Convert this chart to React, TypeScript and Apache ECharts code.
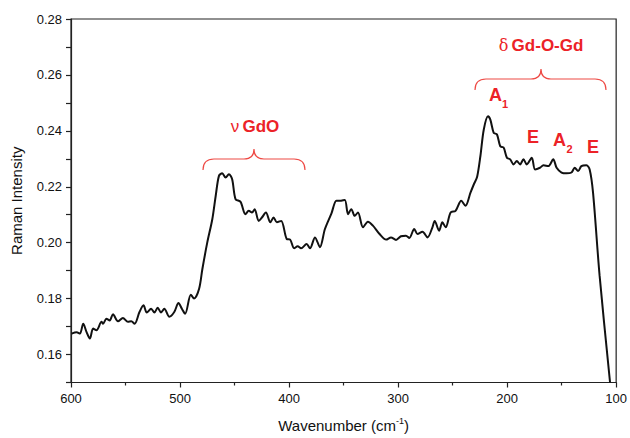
import React, { useEffect, useRef } from "react";
import * as echarts from "echarts";

const wavenumber = [
  599.4, 594.8, 591.8, 588.8, 585.7, 582.7, 579.7, 576.6, 572.0, 570.6,
  567.5, 564.5, 561.5, 556.9, 552.4, 547.8, 544.7, 541.7, 537.2, 533.5,
  530.5, 526.5, 523.5, 520.5, 517.4, 514.4, 509.8, 505.3, 501.4, 498.3,
  495.3, 490.1, 487.1, 482.5, 479.5, 475.0, 470.4, 467.3, 464.3, 461.3,
  458.2, 455.2, 452.2, 449.1, 444.5, 440.0, 437.0, 434.0, 431.5, 427.9,
  424.9, 421.2, 417.2, 414.2, 411.2, 407.2, 402.1, 399.0, 395.4, 392.1,
  389.0, 383.9, 380.8, 376.2, 371.7, 367.1, 361.1, 356.6, 353.5, 348.9,
  345.9, 342.9, 339.8, 336.8, 332.2, 327.7, 323.1, 317.0, 311.0, 306.5,
  301.9, 297.4, 292.8, 289.7, 285.2, 282.2, 277.6, 273.0, 268.5, 266.4,
  262.4, 259.4, 256.4, 251.8, 247.3, 242.1, 238.2, 233.6, 230.5, 227.5,
  224.5, 221.4, 217.5, 215.4, 212.3, 209.3, 206.3, 203.2, 200.2, 197.2,
  194.1, 191.1, 188.1, 185.0, 182.0, 177.4, 174.4, 169.9, 166.7, 162.2,
  157.7, 154.6, 150.1, 145.6, 141.0, 138.0, 134.9, 131.9, 127.3, 124.3,
  121.2, 115.2, 105.6,
];

const intensity = [
  0.1675, 0.168, 0.1675, 0.171, 0.168, 0.1657, 0.1693, 0.1687, 0.1717, 0.171,
  0.1728, 0.1722, 0.1744, 0.1719, 0.1731, 0.1717, 0.1719, 0.171, 0.1752, 0.1776,
  0.175, 0.1764, 0.175, 0.1767, 0.175, 0.1764, 0.1735, 0.1752, 0.1784, 0.1764,
  0.1746, 0.1814, 0.18, 0.1835, 0.1906, 0.2001, 0.2084, 0.2167, 0.2239, 0.2248,
  0.2233, 0.2245, 0.2227, 0.2156, 0.2146, 0.2102, 0.2114, 0.2108, 0.212, 0.2078,
  0.209, 0.2108, 0.2073, 0.209, 0.2073, 0.2078, 0.2013, 0.2011, 0.198, 0.1987,
  0.198, 0.1995, 0.198, 0.2019, 0.1984, 0.2049, 0.2105, 0.215, 0.215, 0.2153,
  0.2102, 0.212, 0.2096, 0.2108, 0.2055, 0.2075, 0.2061, 0.2031, 0.2011, 0.2019,
  0.201, 0.2023, 0.2025, 0.2017, 0.2049, 0.2031, 0.2039, 0.2019, 0.2055, 0.2078,
  0.2043, 0.2073, 0.2055, 0.2108, 0.2114, 0.215, 0.2132, 0.2179, 0.2209, 0.2236,
  0.231, 0.2405, 0.2452, 0.244, 0.2393, 0.2387, 0.2345, 0.234, 0.2304, 0.2298,
  0.228, 0.2292, 0.228, 0.2298, 0.228, 0.2304, 0.2262, 0.2268, 0.2277, 0.2274,
  0.2298, 0.2268, 0.2251, 0.2248, 0.2251, 0.2268, 0.2256, 0.2274, 0.2277, 0.2262,
  0.2179, 0.1883, 0.15,
];

const xTickLabels = ["600", "500", "400", "300", "200", "100"];
const yTickLabels = ["0.16", "0.18", "0.20", "0.22", "0.24", "0.26", "0.28"];

const FONT = "'Liberation Sans', Arial, Helvetica, sans-serif";
const RED = "#ec2227";
const BRACE_RED = "#ee4a45";

let registered = false;
function registerBraces() {
  if (registered) return;
  registered = true;
  const nu =
    "M203,170 Q203,159 214,159 L244,159 Q254,159 254,149 Q254,159 264,159 L294,159 Q305,159 305,170";
  const delta =
    "M475,90 Q475,79 486,79 L531,79 Q541,79 541,69 Q541,79 551,79 L595,79 Q606,79 606,90";
  echarts.graphic.registerShape("braceNu", echarts.graphic.extendPath(nu, {}) as any);
  echarts.graphic.registerShape("braceDelta", echarts.graphic.extendPath(delta, {}) as any);
}

export default function App() {
  const ref = useRef<HTMLDivElement>(null);

  useEffect(() => {
    if (!ref.current) return;
    registerBraces();
    const chart = echarts.init(ref.current, undefined, { renderer: "svg" });
    const data = wavenumber.map((w, i) => [w, intensity[i]]);

    const labelStyle = (size: number) => ({
      fontFamily: FONT,
      fontSize: size,
      fontWeight: "bold" as const,
      fill: RED,
    });

    chart.setOption({
      animation: false,
      backgroundColor: "#ffffff",
      grid: {
        left: 71,
        right: 10,
        top: 19,
        bottom: 53,
        show: true,
        borderColor: "#222",
        borderWidth: 1.2,
        backgroundColor: "transparent",
      },
      xAxis: {
        type: "value",
        min: 100,
        max: 600,
        interval: 100,
        inverse: true,
        name: "{m|Wavenumber (cm}{s|-1}{m|)}",
        nameLocation: "middle",
        nameGap: 34,
        nameTextStyle: {
          color: "#111",
          rich: {
            m: { fontFamily: FONT, fontSize: 15, color: "#111", lineHeight: 18 },
            s: { fontFamily: FONT, fontSize: 9, color: "#111", verticalAlign: "top", lineHeight: 9 },
          },
        },
        axisLine: { show: true, lineStyle: { color: "#222", width: 1.2 } },
        axisTick: { show: true, length: 5, lineStyle: { color: "#222", width: 1.2 } },
        minorTick: { show: true, splitNumber: 2, length: 3, lineStyle: { color: "#222", width: 1.2 } },
        splitLine: { show: false },
        minorSplitLine: { show: false },
        axisLabel: {
          margin: 9,
          color: "#111",
          fontFamily: FONT,
          fontSize: 13,
          formatter: (v: number) => {
            const s = String(Math.round(v));
            return xTickLabels.includes(s) ? s : "";
          },
        },
      },
      yAxis: {
        type: "value",
        min: 0.15,
        max: 0.28,
        interval: 0.01,
        name: "Raman Intensity",
        nameLocation: "middle",
        nameGap: 47,
        nameRotate: 90,
        nameTextStyle: { color: "#111", fontFamily: FONT, fontSize: 15 },
        axisLine: { show: true, lineStyle: { color: "#222", width: 1.2 } },
        axisTick: { show: true, length: 5, lineStyle: { color: "#222", width: 1.2 } },
        splitLine: { show: false },
        axisLabel: {
          margin: 9,
          color: "#111",
          fontFamily: FONT,
          fontSize: 13,
          formatter: (v: number) => {
            const s = v.toFixed(2);
            return yTickLabels.includes(s) ? s : "";
          },
        },
      },
      series: [
        {
          type: "line",
          data,
          showSymbol: false,
          smooth: 0.3,
          clip: true,
          lineStyle: { color: "#111", width: 2 },
        },
      ],
      graphic: [
        { type: "braceNu", x: 0, y: 0, silent: true, style: { stroke: BRACE_RED, fill: "none", lineWidth: 1.2 } },
        { type: "braceDelta", x: 0, y: 0, silent: true, style: { stroke: BRACE_RED, fill: "none", lineWidth: 1.2 } },
        {
          type: "text",
          x: 255,
          y: 126,
          style: {
            text: "{g|ν} {b|GdO}",
            align: "center",
            verticalAlign: "middle",
            fill: RED,
            rich: {
              g: { fontFamily: FONT, fontSize: 17, fill: RED, fontWeight: "normal" },
              b: { fontFamily: FONT, fontSize: 17, fill: RED, fontWeight: "bold" },
            },
          },
        },
        {
          type: "text",
          x: 541,
          y: 45,
          style: {
            text: "{g|δ} {b|Gd-O-Gd}",
            align: "center",
            verticalAlign: "middle",
            fill: RED,
            rich: {
              g: { fontFamily: "'DejaVu Serif', serif", fontSize: 16, fill: RED, fontWeight: "normal" },
              b: { fontFamily: FONT, fontSize: 17, fill: RED, fontWeight: "bold" },
            },
          },
        },
        { type: "text", x: 495.5, y: 95, style: { text: "A", align: "center", verticalAlign: "middle", ...labelStyle(18) } },
        { type: "text", x: 505, y: 104, style: { text: "1", align: "center", verticalAlign: "middle", ...labelStyle(11) } },
        { type: "text", x: 533, y: 136.5, style: { text: "E", align: "center", verticalAlign: "middle", ...labelStyle(18) } },
        { type: "text", x: 559.5, y: 139.5, style: { text: "A", align: "center", verticalAlign: "middle", ...labelStyle(18) } },
        { type: "text", x: 569.5, y: 148.5, style: { text: "2", align: "center", verticalAlign: "middle", ...labelStyle(11) } },
        { type: "text", x: 593, y: 146.5, style: { text: "E", align: "center", verticalAlign: "middle", ...labelStyle(18) } },
      ],
    });

    return () => chart.dispose();
  }, []);

  return <div ref={ref} style={{ width: 630, height: 438, position: "absolute", left: 0, top: 0 }} />;
}
